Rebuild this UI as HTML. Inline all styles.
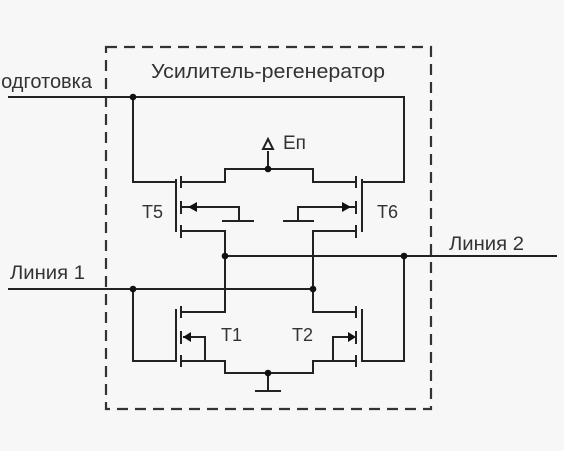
<!DOCTYPE html>
<html><head><meta charset="utf-8"><style>
html,body{margin:0;padding:0;background:#f7f7f7;}
svg{display:block;}
text{font-family:"Liberation Sans",sans-serif;fill:#333;}
</style></head><body>
<svg width="564" height="451" viewBox="0 0 564 451" xmlns="http://www.w3.org/2000/svg">
<rect x="106" y="47" width="325" height="362" fill="none" stroke="#333" stroke-width="2.2" stroke-dasharray="11,7"/>
<text x="151" y="78" font-size="20" textLength="234" lengthAdjust="spacingAndGlyphs">Усилитель-регенератор</text>
<text x="92" y="88" font-size="20" text-anchor="end">Подготовка</text>
<text x="10" y="279" font-size="19" textLength="75" lengthAdjust="spacingAndGlyphs">Линия 1</text>
<text x="449" y="250" font-size="19" textLength="75" lengthAdjust="spacingAndGlyphs">Линия 2</text>
<text x="142" y="218" font-size="18">T5</text>
<text x="377" y="218" font-size="18">T6</text>
<text x="221" y="341" font-size="18">T1</text>
<text x="292" y="341" font-size="18">T2</text>
<text x="283" y="149" font-size="19">Eп</text>
<g fill="none" stroke="#222" stroke-width="2">
<polyline points="8,97 404,97 404,182 362,182"/>
<polyline points="133,97 133,182 176,182"/>
<!-- T5 -->
<line x1="176" y1="179" x2="176" y2="232"/>
<line x1="181" y1="176" x2="181" y2="188"/><line x1="181" y1="201" x2="181" y2="214"/><line x1="181" y1="225" x2="181" y2="238"/>
<polyline points="181,182 225,182 225,169 313,169 313,182 356,182"/>
<line x1="268" y1="169" x2="268" y2="151"/>
<polyline points="181,207 239,207 239,221"/><line x1="222" y1="221" x2="254" y2="221"/>
<polyline points="181,231 225,231 225,312 181,312"/>
<!-- T6 -->
<line x1="362" y1="179" x2="362" y2="232"/>
<line x1="356" y1="176" x2="356" y2="188"/><line x1="356" y1="201" x2="356" y2="214"/><line x1="356" y1="225" x2="356" y2="238"/>
<polyline points="356,207 298,207 298,221"/><line x1="283" y1="221" x2="314" y2="221"/>
<polyline points="356,231 313,231 313,312 356,312"/>
<line x1="225" y1="256" x2="557" y2="256"/>
<line x1="8" y1="289" x2="313" y2="289"/>
<polyline points="404,256 404,361 362,361"/>
<polyline points="133,289 133,361 176,361"/>
<!-- T1 -->
<line x1="176" y1="309" x2="176" y2="362"/>
<line x1="181" y1="306" x2="181" y2="318"/><line x1="181" y1="331" x2="181" y2="344"/><line x1="181" y1="355" x2="181" y2="367"/>
<polyline points="183,337 205,337 205,361"/>
<polyline points="181,361 225,361 225,373 313,373 313,361 356,361"/>
<!-- T2 -->
<line x1="362" y1="309" x2="362" y2="362"/>
<line x1="356" y1="306" x2="356" y2="318"/><line x1="356" y1="331" x2="356" y2="344"/><line x1="356" y1="355" x2="356" y2="367"/>
<polyline points="354,337 333,337 333,361"/>
<line x1="268" y1="373" x2="268" y2="391"/><line x1="255" y1="391" x2="281" y2="391"/>
</g>
<polygon points="268,139 263,149 273,149" fill="#f7f7f7" stroke="#222" stroke-width="2"/>
<g fill="#111">
<polygon points="188,207 197,202 197,212"/>
<polygon points="351,207 342,202 342,212"/>
<polygon points="183,337 191,332 191,342"/>
<polygon points="356,337 348,332 348,342"/>
<circle cx="133" cy="97" r="3.3"/><circle cx="268" cy="169" r="3.3"/>
<circle cx="225" cy="256" r="3.3"/><circle cx="404" cy="256" r="3.3"/>
<circle cx="133" cy="289" r="3.3"/><circle cx="313" cy="289" r="3.3"/>
<circle cx="268" cy="373" r="3.3"/>
</g>
</svg>
</body></html>
